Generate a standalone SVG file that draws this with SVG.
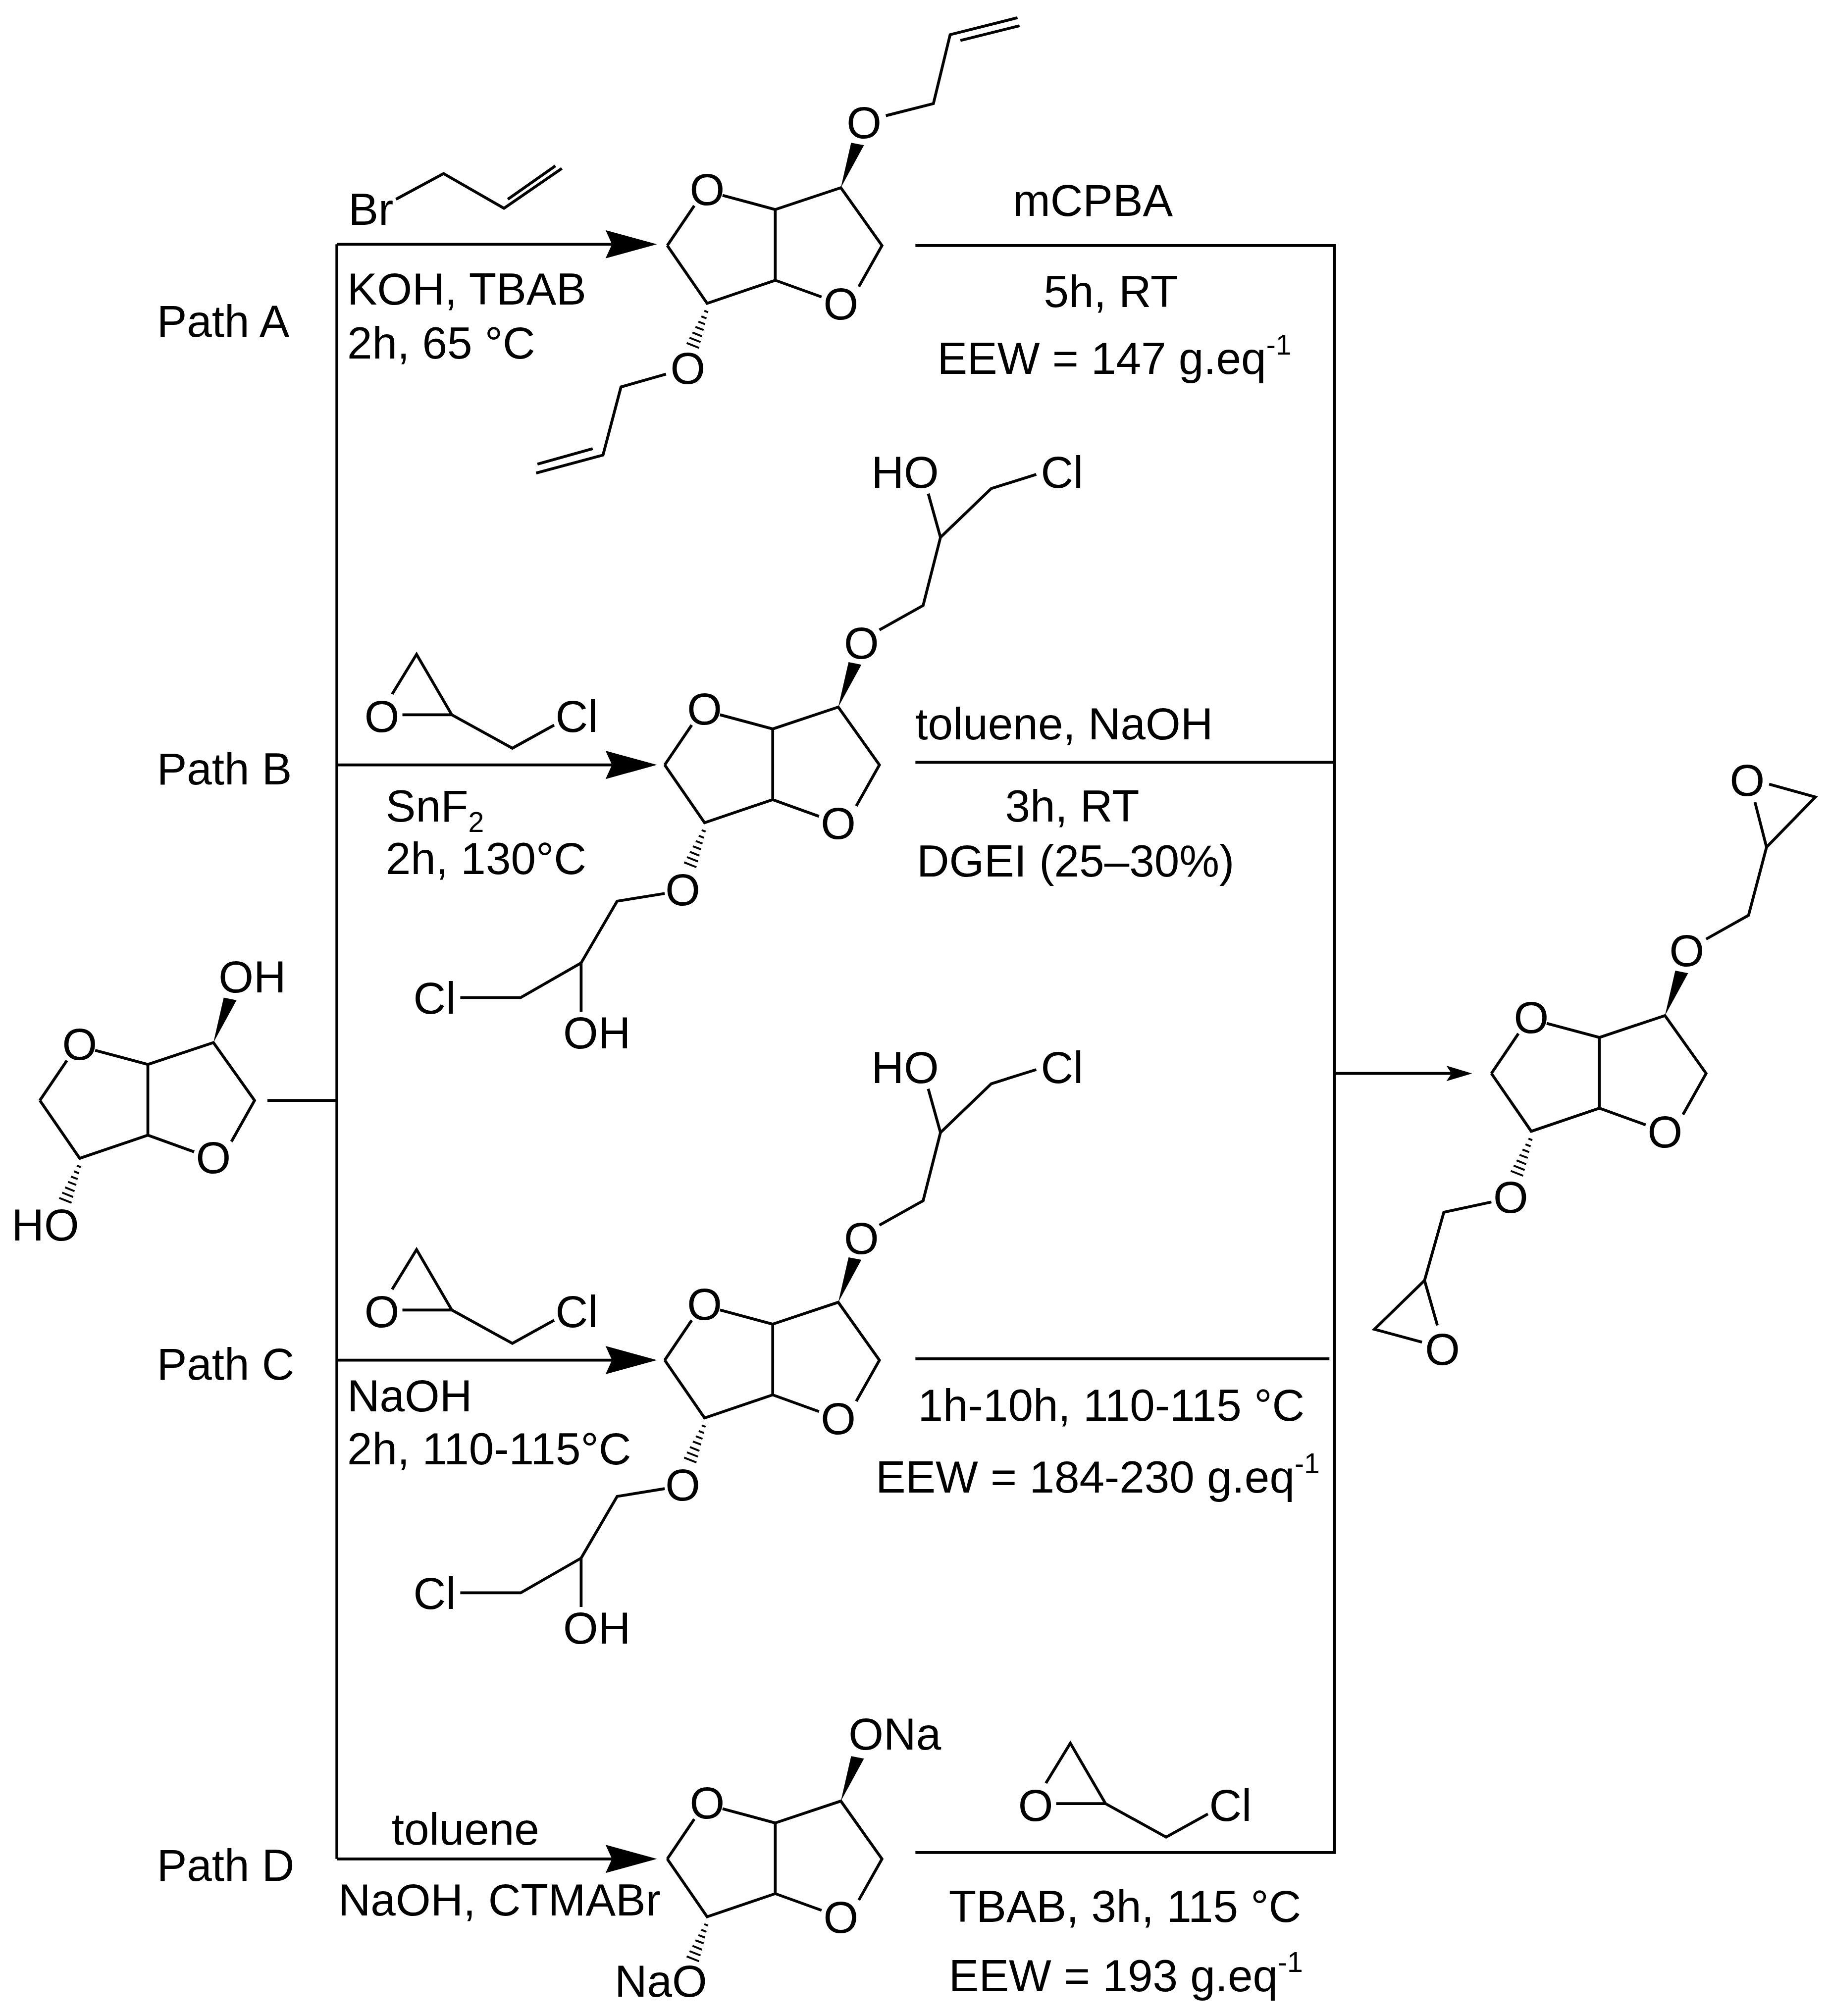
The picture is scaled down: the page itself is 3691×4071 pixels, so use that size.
<svg xmlns="http://www.w3.org/2000/svg" xmlns:xlink="http://www.w3.org/1999/xlink" width="3691" height="4071" viewBox="0 0 3691 4071">
<style>
.b{fill:none;stroke:#000;stroke-width:2.2;stroke-linecap:butt;stroke-linejoin:miter}
.h{fill:none;stroke:#000;stroke-width:1.5}
.f{fill:#000;stroke:none}
text{font-family:"Liberation Sans",Arial,sans-serif;font-size:35px;fill:#000}
.m{text-anchor:middle}
.sup{font-size:22px}
</style>
<defs>
<g id="core">
<path class="b" d="M0,0 L21,-31 M43,-39 L84,-28 L84,27 M84,-28 L135,-45 L167,0 L149,32 M120,40 L84,27 L31,45 L0,0"/>
<polygon class="f" points="135,-45 143,-80 153,-78"/>
<path class="h" d="M28.8,50.7 L31.8,51.9 M26.5,55.1 L30.5,56.7 M24.2,59.2 L29.4,61.2 M21.9,63.3 L28.3,65.7 M19.6,67.6 L27,70.6 M17.3,71.7 L25.9,75.1 M15.1,75.8 L24.7,79.6"/>
</g>
<g id="epi">
<path class="b" d="M305,540 L324,509 L351.4,556 L398.5,582 L431,564 M313,556 L351.4,556"/>
</g>
<polygon id="head" class="f" points="0,0 -40,-11 -35,0 -40,11"/>
</defs>
<g transform="scale(2.596)">
<g id="connectors">
<path class="b" d="M262,190 L262,1446 M208,856 L262,856"/>
<path class="b" d="M262,190 L476,190 M262,595 L476,595 M262,1058 L476,1058 M262,1446 L476,1446"/>
<use href="#head" xlink:href="#head" x="511" y="190"/>
<use href="#head" xlink:href="#head" x="511" y="595"/>
<use href="#head" xlink:href="#head" x="511" y="1058"/>
<use href="#head" xlink:href="#head" x="511" y="1446"/>
<path class="b" d="M712,191 L1038,191 L1038,1441 L712,1441 M712,593 L1038,593 M712,1057 L1034,1057 M1038,835 L1130,835"/>
<polygon class="f" points="1145,835 1125,829 1129,835 1125,841"/>
</g>
<g id="labels">
<text x="122" y="262">Path A</text>
<text x="122" y="610">Path B</text>
<text x="122" y="1073">Path C</text>
<text x="122" y="1463">Path D</text>
<text x="270" y="237">KOH, TBAB</text>
<text x="270" y="279">2h, 65 °C</text>
<text class="m" x="850" y="168">mCPBA</text>
<text class="m" x="864" y="239">5h, RT</text>
<text x="729" y="291">EEW = 147 g.eq<tspan class="sup" dy="-15">-1</tspan></text>
<text x="300" y="639">SnF<tspan class="sup" dy="8">2</tspan></text>
<text x="300" y="680">2h, 130°C</text>
<text x="712" y="575">toluene, NaOH</text>
<text class="m" x="834" y="639">3h, RT</text>
<text x="713" y="682">DGEI (25–30%)</text>
<text x="270" y="1098">NaOH</text>
<text x="270" y="1139">2h, 110-115°C</text>
<text x="714" y="1105">1h-10h, 110-115 °C</text>
<text x="681" y="1161">EEW = 184-230 g.eq<tspan class="sup" dy="-15">-1</tspan></text>
<text class="m" x="362" y="1435">toluene</text>
<text x="263" y="1490">NaOH, CTMABr</text>
<text class="m" x="875" y="1495">TBAB, 3h, 115 °C</text>
<text x="738" y="1549">EEW = 193 g.eq<tspan class="sup" dy="-15">-1</tspan></text>
</g>
<g id="start">
<use href="#core" xlink:href="#core" x="31" y="856"/>
<text class="m" x="62" y="824.5">O</text>
<text class="m" x="166" y="912.5">O</text>
<text x="170" y="772">OH</text>
<text x="9" y="965">HO</text>
</g>
<g id="allylbromide">
<path class="b" d="M308,155 L345,135 L392,162 L437,131 M395,155 L432,129"/>
<text x="271" y="175">Br</text>
</g>
<g id="productA">
<use href="#core" xlink:href="#core" x="519" y="191"/>
<text class="m" x="550" y="159.5">O</text>
<text class="m" x="654" y="248.5">O</text>
<text class="m" x="672" y="107.5">O</text>
<path class="b" d="M689,90 L726,80.6 L739,27 L791.4,13.8 M747,31.5 L793,20"/>
<text class="m" x="535" y="298.5">O</text>
<path class="b" d="M518,291 L483,301 L469,354 L417,368 M461,349 L418,361"/>
</g>
<g id="reagentB">
<use href="#epi" xlink:href="#epi"/>
<text class="m" x="297" y="569.5">O</text>
<text class="m" x="448.5" y="569.5">Cl</text>
</g>
<g id="productB">
<use href="#core" xlink:href="#core" x="517" y="595"/>
<text class="m" x="548" y="563.5">O</text>
<text class="m" x="652" y="652.5">O</text>
<text class="m" x="670" y="512.5">O</text>
<path class="b" d="M684,490 L718,471 L731.5,418 L722,384 M731.5,418 L771,380 L806,369"/>
<text class="m" x="704" y="379.5">HO</text>
<text class="m" x="826" y="379.5">Cl</text>
<text class="m" x="531" y="704">O</text>
<path class="b" d="M517,695 L480,701 L452,749 L452,787 M452,749 L405,776 L358,776"/>
<text x="438" y="815.5">OH</text>
<text class="m" x="338" y="788.5">Cl</text>
</g>
<g id="reagentC" transform="translate(0,463)">
<use href="#epi" xlink:href="#epi"/>
<text class="m" x="297" y="569.5">O</text>
<text class="m" x="448.5" y="569.5">Cl</text>
</g>
<g id="productC" transform="translate(0,463)">
<use href="#core" xlink:href="#core" x="517" y="595"/>
<text class="m" x="548" y="563.5">O</text>
<text class="m" x="652" y="652.5">O</text>
<text class="m" x="670" y="512.5">O</text>
<path class="b" d="M684,490 L718,471 L731.5,418 L722,384 M731.5,418 L771,380 L806,369"/>
<text class="m" x="704" y="379.5">HO</text>
<text class="m" x="826" y="379.5">Cl</text>
<text class="m" x="531" y="704">O</text>
<path class="b" d="M517,695 L480,701 L452,749 L452,787 M452,749 L405,776 L358,776"/>
<text x="438" y="815.5">OH</text>
<text class="m" x="338" y="788.5">Cl</text>
</g>
<g id="disodium">
<use href="#core" xlink:href="#core" x="519" y="1446"/>
<text class="m" x="550" y="1414.5">O</text>
<text class="m" x="654" y="1503.5">O</text>
<text x="660" y="1361">ONa</text>
<text x="550" y="1553" text-anchor="end">NaO</text>
</g>
<g id="reagentD" transform="translate(508.5,847)">
<use href="#epi" xlink:href="#epi"/>
<text class="m" x="297" y="569.5">O</text>
<text class="m" x="448.5" y="569.5">Cl</text>
</g>
<g id="product">
<use href="#core" xlink:href="#core" x="1160" y="835"/>
<text class="m" x="1191" y="803.5">O</text>
<text class="m" x="1295" y="892.5">O</text>
<text class="m" x="1312" y="751.5">O</text>
<path class="b" d="M1327,730.5 L1360,712 L1374,659 L1365,624 M1376,610 L1412,620 L1374,659"/>
<text class="m" x="1359" y="619">O</text>
<text class="m" x="1175" y="943.5">O</text>
<path class="b" d="M1160,935 L1123,943 L1108,996 L1069,1034 L1106,1044 M1118,1031 L1108,996"/>
<text class="m" x="1122" y="1061.5">O</text>
</g>
</g>
</svg>
